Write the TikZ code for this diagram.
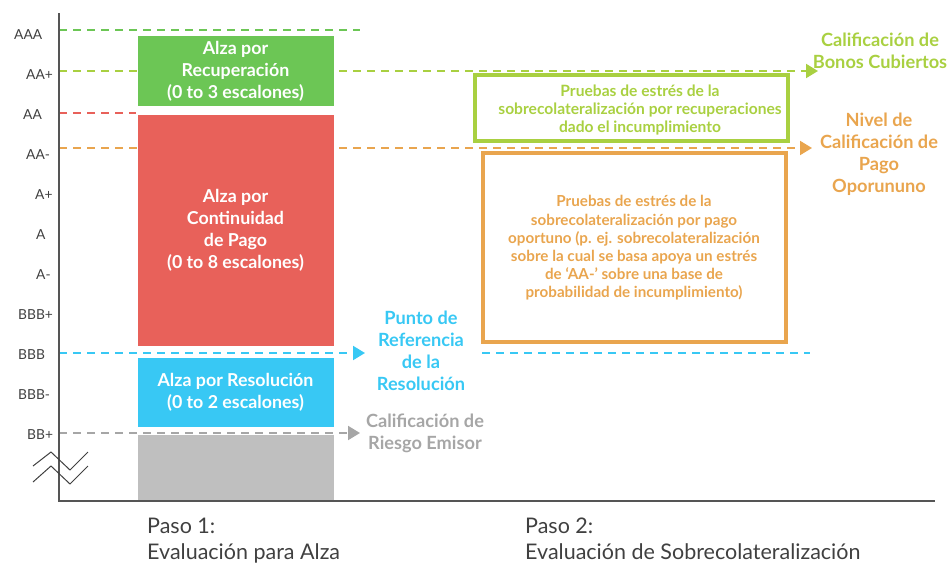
\documentclass[tikz,border=0pt]{standalone}
\usepackage{fontspec}
\setmainfont{Lato}[BoldFont={Lato Bold}]
\usetikzlibrary{arrows.meta}
\definecolor{cgreen}{HTML}{6CC655}
\definecolor{cyg}{HTML}{A9D041}
\definecolor{cred}{HTML}{E8615A}
\definecolor{corange}{HTML}{E9A54E}
\definecolor{cblue}{HTML}{38C8F4}
\definecolor{cgrayfill}{HTML}{BFBFBF}
\definecolor{cgraytxt}{HTML}{A6A6A6}
\definecolor{caxis}{HTML}{555555}
\definecolor{ctext}{HTML}{404040}
\tikzset{
  dline/.style={line width=2pt, dash pattern=on 8pt off 6pt},
  tip/.style={-{Triangle[length=12pt,width=14pt]}},
  bar/.style={inner sep=0pt, outer sep=0pt, text=white, align=center, font=\bfseries\fontsize{17.8}{22}\selectfont},
  rating/.style={anchor=west, inner sep=0pt, text=ctext, font=\fontsize{13.8}{15}\selectfont},
  side/.style={align=center, inner sep=0pt, font=\bfseries\fontsize{18.2}{22}\selectfont},
  boxtxt/.style={align=center, inner sep=0pt, font=\bfseries\fontsize{15.2}{18.2}\selectfont},
  step label/.style={anchor=north west, align=left, inner sep=0pt, text=ctext, font=\fontsize{21.5}{26}\selectfont}
}
\begin{document}
\begin{tikzpicture}[x=1pt,y=-1pt]
\useasboundingbox (0,0) rectangle (949,568);
% axis coordinates
\coordinate (yAAA) at (59,30);
\coordinate (yAAp) at (59,71);
\coordinate (yAA) at (59,113);
\coordinate (yAAm) at (59,148);
\coordinate (yBBB) at (59,353);
\coordinate (yBBp) at (59,433);
\coordinate (axtop) at (59,13);
\coordinate (axo) at (59,501);
\coordinate (axend) at (935,501);
% dashed lines (behind bars)
\draw[dline, cgreen] (yAAA) -- (360,30);
\draw[dline, cred] (yAA) -- (136,113);
% right labels
\node[side, text=cyg] (bonos) at (880,51) {Calificación de\\Bonos Cubiertos};
\node[side, text=corange] (nivel) at (879,154) {Nivel de\\Calificación de\\Pago\\Oporununo};
\node[side, text=cblue] (punto) at (421,351) {Punto de\\Referencia\\de la\\Resolución};
\node[side, text=cgraytxt] (emisor) at (425,433) {Calificación de\\Riesgo Emisor};
\coordinate (aAAp) at (818,71);
\coordinate (aAAm) at (812,148);
\coordinate (aBBB) at (365,353);
\coordinate (aBBp) at (360,433);
\draw[dline, cyg, tip] (yAAp) -- (aAAp);
\draw[dline, corange, tip] (yAAm) -- (aAAm);
\draw[dline, cblue, tip] (yBBB) -- (aBBB);
\draw[dline, cgraytxt, tip] (yBBp) -- (aBBp);
\coordinate (bs) at (482,353);
\coordinate (be) at (810,353);
\draw[dline, cblue] (bs) -- (be);
% bars
\node[bar, fill=cgreen, minimum width=196pt, minimum height=70pt] (recup) at (235.5,71) {Alza por\\Recuperación\\(0 to 3 escalones)};
\node[bar, fill=cred, minimum width=196pt, minimum height=231pt] (cont) at (235.5,230.5) {Alza por\\Continuidad\\de Pago\\(0 to 8 escalones)};
\node[bar, fill=cblue, minimum width=196pt, minimum height=69pt] (resol) at (235.5,392.5) {Alza por Resolución\\(0 to 2 escalones)};
\node[bar, fill=cgrayfill, minimum width=196pt, minimum height=66pt] (base) at (235.5,468) {};
% outlined boxes
\node[draw=cyg, line width=4.5pt, minimum width=313pt, minimum height=66pt, inner sep=0pt] (gbox) at (631.5,108) {};
\node[boxtxt, text=cyg, font=\bfseries\fontsize{15.6}{18.2}\selectfont] (gtxt) at (640,110) {Pruebas de estrés de la\\sobrecolateralización por recuperaciones\\dado el incumplimiento};
\node[draw=corange, line width=4.5pt, minimum width=303pt, minimum height=189pt, inner sep=0pt] (obox) at (634.5,247.5) {};
\node[boxtxt, text=corange] (otxt) at (634,248) {Pruebas de estrés de la\\sobrecolateralización por pago\\oportuno (p. ej. sobrecolateralización\\sobre la cual se basa apoya un estrés\\de ‘AA-’ sobre una base de\\probabilidad de incumplimiento)};
% axes
\draw[caxis, line width=1.3pt] (axtop) -- (axo) -- (axend);
% break symbol
\draw[ctext, line width=1pt] (33,466) -- (51,452) -- (70,470) -- (88,452);
\draw[ctext, line width=1pt] (33,482) -- (51,466) -- (70,484) -- (88,466);
% ratings
\node[rating] (rAAA) at (14,35) {AAA};
\node[rating] (rAAp) at (26,75) {AA+};
\node[rating] (rAA) at (23,115) {AA};
\node[rating] (rAAm) at (26,155) {AA-};
\node[rating] (rAp) at (35,195) {A+};
\node[rating] (rA) at (36,235) {A};
\node[rating] (rAm) at (36,275) {A-};
\node[rating] (rBBBp) at (18,315) {BBB+};
\node[rating] (rBBB) at (18,355) {BBB};
\node[rating] (rBBBm) at (18,395) {BBB-};
\node[rating] (rBBp) at (27,435) {BB+};
% step labels
\node[step label] (paso1) at (147,518) {Paso 1:\\Evaluación para Alza};
\node[step label] (paso2) at (525,518) {Paso 2:\\Evaluación de Sobrecolateralización};
\end{tikzpicture}
\end{document}
